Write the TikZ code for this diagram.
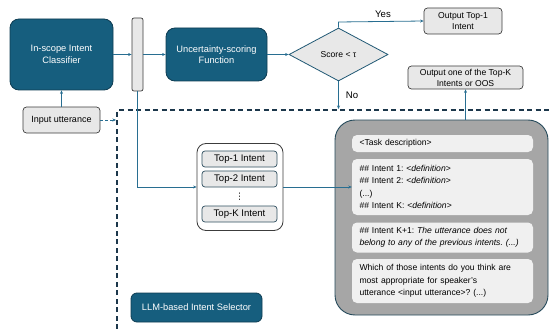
\documentclass[tikz,border=0pt]{standalone}
\usepackage{fontspec}
\setmainfont{Liberation Sans}
\newfontfamily\dejavu{DejaVu Sans}
\frenchspacing
\usetikzlibrary{shapes.geometric,arrows.meta}
\definecolor{teal1}{RGB}{22,94,126}
\definecolor{tealedge}{RGB}{14,60,82}
\definecolor{arrowc}{RGB}{40,110,145}
\definecolor{lgray}{RGB}{232,232,232}
\definecolor{edgegray}{RGB}{60,60,60}
\definecolor{biggray}{RGB}{166,166,166}
\definecolor{innergray}{RGB}{240,240,240}
\definecolor{dashc}{RGB}{28,55,75}
\tikzset{
  darkbox/.style={draw=tealedge, fill=teal1, text=white, rounded corners=9pt, line width=0.8pt, align=center, inner sep=0pt, font=\fontsize{9.3}{11.5}\selectfont},
  graybox/.style={draw=edgegray, fill=lgray, rounded corners=3.5pt, line width=0.7pt, align=center, inner sep=0pt, font=\fontsize{8.6}{11}\selectfont},
  topbox/.style={draw=tealedge!70!gray, fill=lgray, rounded corners=3pt, line width=0.7pt, inner sep=0pt, minimum width=75pt, minimum height=16pt, font=\fontsize{9.6}{11}\selectfont},
  promptbox/.style={fill=innergray, rounded corners=5pt, inner sep=0pt, minimum width=181pt, text width=166pt, align=left, font=\fontsize{8.6}{12.3}\selectfont},
  conn/.style={draw=arrowc, line width=0.8pt, -{Stealth[length=3.5pt,width=3pt]}},
}
\begin{document}
\begin{tikzpicture}[x=1pt,y=-1pt]
\useasboundingbox (0,0) rectangle (549,329);
% dashed region
\draw[dashc, line width=1.1pt, dash pattern=on 5pt off 3.5pt] (117,329) -- (117,110) -- (549,110);
\node[darkbox, minimum width=103pt, minimum height=71pt] (cls) at (61.5,54.5) {In-scope Intent\\Classifier};
\node[draw=edgegray, fill=lgray, rounded corners=2pt, line width=0.7pt, minimum width=11pt, minimum height=73pt, inner sep=0pt] (bar) at (137.5,54.5) {};
\node[darkbox, minimum width=101pt, minimum height=53pt] (unc) at (216.5,54.5) {Uncertainty-scoring\\Function};
\node[diamond, draw=arrowc!80!black, fill=lgray, line width=0.8pt, aspect=1.9, inner sep=0pt, minimum width=99pt, minimum height=53pt, font=\fontsize{8.6}{10}\selectfont] (dia) at (338.5,54.5) {Score < τ};
\node[graybox, minimum width=78pt, minimum height=26pt] (out1) at (463,21) {Output Top-1\\Intent};
\node[graybox, minimum width=115pt, minimum height=23pt] (outk) at (465.5,77.5) {Output one of the Top-K\\Intents or OOS};
\node[graybox, minimum width=77pt, minimum height=26pt, font=\fontsize{9}{11}\selectfont] (inp) at (61.5,120) {Input utterance};
% top-k container
\node[draw=edgegray, fill=white, rounded corners=9pt, line width=0.8pt, minimum width=86pt, minimum height=87pt, inner sep=0pt] (cont) at (240,187) {};
\node[topbox] (t1) at (239.5,159) {Top-1 Intent};
\node[topbox] (t2) at (239.5,179) {Top-2 Intent};
\node[font=\dejavu\fontsize{9}{9}\selectfont, inner sep=0pt] (dots) at (239.5,197) {⋮};
\node[topbox] (tk) at (239.5,214) {Top-K Intent};
% big gray box
\node[draw=tealedge!80!gray, fill=biggray, rounded corners=20pt, line width=0.9pt, minimum width=213pt, minimum height=195pt, inner sep=0pt] (big) at (441.5,217.5) {};
\node[promptbox, minimum height=17pt] (task) at (442.5,143.5) {<Task description>};
\node[promptbox, minimum height=56pt] (list) at (442.5,187) {\#\# Intent 1: <\textit{definition}>\\\#\# Intent 2: <\textit{definition}>\\(...)\\\#\# Intent K: <\textit{definition}>};
\node[promptbox, minimum height=30pt] (kp1) at (442.5,237.5) {\#\# Intent K+1: \textit{The utterance does not}\\\textit{belong to any of the previous intents. (...)}};
\node[promptbox, minimum height=44pt] (which) at (442.5,281) {Which of those intents do you think are\\most appropriate for speaker's\\utterance <input utterance>? (...)};
\node[darkbox, rounded corners=6pt, minimum width=131pt, minimum height=29pt] (llm) at (196.5,307.5) {LLM-based Intent Selector};
% connectors
\draw[conn] (cls.east) -- (bar.west);
\draw[conn] (bar.east) -- (unc.west);
\draw[conn] (unc.east) -- (dia.west);
\coordinate (yesturn) at (338.5,22);
\draw[conn] (dia.north) -- (yesturn) -- (out1.west);
\node[font=\fontsize{9.6}{11}\selectfont, inner sep=0pt] (yes) at (383,14) {Yes};
\coordinate (noend) at (338.5,109);
\draw[conn] (dia.south) -- (noend);
\node[font=\fontsize{9.6}{11}\selectfont, inner sep=0pt] (no) at (352,95) {No};
\draw[conn] (inp.north) -- (cls.south);
\coordinate (dashend) at (116,120);
\draw[conn, dashed, dash pattern=on 3pt off 2pt] (inp.east) -- (dashend);
\draw[conn] (bar.south) |- (cont.west);
\draw[conn] (cont.east) -- (list.west);
\draw[conn] (big.north -| outk.south) -- (outk.south);
\end{tikzpicture}
\end{document}
